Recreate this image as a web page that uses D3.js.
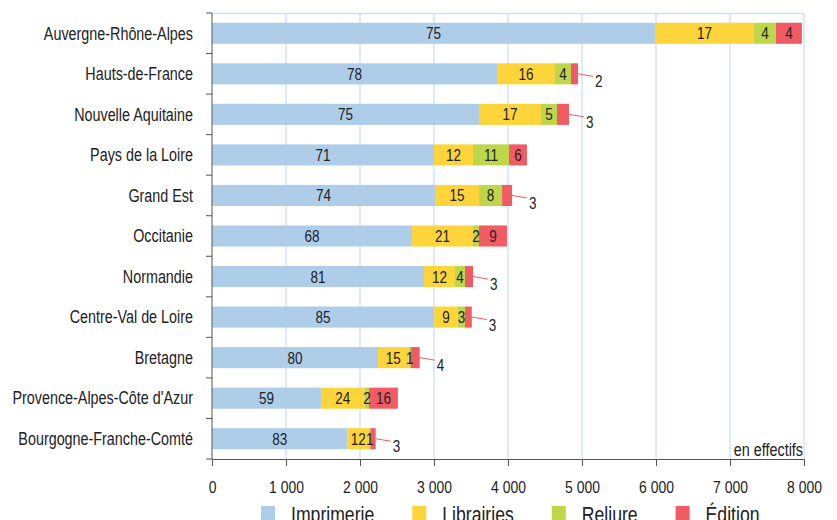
<!DOCTYPE html>
<html><head><meta charset="utf-8">
<script src="https://cdn.jsdelivr.net/npm/d3@7"></script>
<style>
body{margin:0;background:#fff;}
svg{display:block;font-family:"Liberation Sans",Arial,Helvetica,sans-serif;}
</style></head>
<body><svg id="c" width="837" height="520"></svg>
<script>
const regions = ["Auvergne-Rhône-Alpes","Hauts-de-France","Nouvelle Aquitaine","Pays de la Loire","Grand Est","Occitanie","Normandie","Centre-Val de Loire","Bretagne","Provence-Alpes-Côte d'Azur","Bourgogne-Franche-Comté"];
const seriesNames = ["Imprimerie","Librairies","Reliure","Édition"];
// effectifs (counts)
const imprimerie = [5986,3851,3608,3000,3014,2703,2865,3003,2243,1472,1832];
const librairies = [1338,784,838,527,595,824,419,319,416,592,290];
const reliure    = [297,216,216,486,311,81,135,97,28,59,20];
const edition    = [351,95,162,243,135,378,108,92,120,389,70];
// percentage labels (en %)
const pctImprimerie = [75,78,75,71,74,68,81,85,80,59,83];
const pctLibrairies = [17,16,17,12,15,21,12,9,15,24,12];
const pctReliure    = [4,4,5,11,8,2,4,3,1,2,1];
const pctEdition    = [4,2,3,6,3,9,3,3,4,16,3];
const xTicks = [0,1000,2000,3000,4000,5000,6000,7000,8000];
const colors = ["#aecde9","#fed43b","#bed74a","#f15b63"];

const values = [imprimerie, librairies, reliure, edition];
const pcts = [pctImprimerie, pctLibrairies, pctReliure, pctEdition];
const rows = regions.map((r,i)=>{const o={region:r}; seriesNames.forEach((s,k)=>o[s]=values[k][i]); return o;});
const stack = d3.stack().keys(seriesNames)(rows);

const svg = d3.select("#c");
const x = d3.scaleLinear().domain([0,8000]).range([212,804]);
const y = d3.scaleBand().domain(regions).range([13,459]).paddingInner(0.48).paddingOuter(0.24);
const fmt = v => d3.format(",")(v).replace(/,/g," ");
const SX = 0.82; // condensed look
function txt(parent, px, py, s, size, anchor){
  return parent.append("text")
    .attr("transform",`translate(${px},${py}) scale(${SX},1)`)
    .attr("text-anchor",anchor||"start").attr("font-size",size).attr("fill","#222").text(s);
}

// grid
svg.append("g").selectAll("line").data(xTicks.slice(1)).join("line")
  .attr("x1",d=>x(d)).attr("x2",d=>x(d)).attr("y1",13).attr("y2",459)
  .attr("stroke","#c9e1f3").attr("stroke-width",1.3);
svg.append("line").attr("x1",x(0)).attr("x2",x(8000)).attr("y1",13.5).attr("y2",13.5)
  .attr("stroke","#c9e1f3").attr("stroke-width",1.3);

// bars
const g = svg.append("g");
stack.forEach((layer,k)=>{
  g.append("g").selectAll("rect").data(layer).join("rect")
    .attr("x",d=>x(d[0])).attr("width",d=>x(d[1])-x(d[0]))
    .attr("y",d=>y(d.data.region)).attr("height",y.bandwidth())
    .attr("fill",colors[k]);
});

// labels
const lg = svg.append("g");
stack.forEach((layer,k)=>{
  layer.forEach((d,i)=>{
    const x0=x(d[0]), x1=x(d[1]), cy=y(d.data.region)+y.bandwidth()/2;
    const w=x1-x0, lab=pcts[k][i];
    if(k===3 && w<15){
      lg.append("line").attr("x1",x1).attr("y1",cy).attr("x2",x1+15).attr("y2",cy+2.5)
        .attr("stroke","#f15b63").attr("stroke-width",1);
      txt(lg, x1+17, cy+13.5, lab, 16.5, "start");
    } else {
      txt(lg, (x0+x1)/2, cy+6, lab, 16.5, "middle");
    }
  });
});

// y axis
const yAxis = svg.append("g").attr("transform","translate(212,0)");
yAxis.append("line").attr("x1",0).attr("x2",0).attr("y1",13).attr("y2",459).attr("stroke","#555");
const bounds = d3.range(regions.length+1).map(i=>13+i*(446/regions.length));
yAxis.selectAll("line.t").data(bounds).join("line").attr("class","t")
  .attr("x1",-6).attr("x2",0).attr("y1",d=>d).attr("y2",d=>d).attr("stroke","#555");
regions.forEach(r=>txt(yAxis, -19, y(r)+y.bandwidth()/2+6.3, r, 17.5, "end"));

// x axis
const xAxis = svg.append("g").attr("transform","translate(0,459)")
  .call(d3.axisBottom(x).tickValues(xTicks).tickFormat(fmt).tickSize(7).tickSizeOuter(0));
xAxis.select(".domain").attr("stroke","#555");
xAxis.selectAll(".tick line").attr("stroke","#555");
xAxis.selectAll(".tick text").attr("font-size",17).attr("fill","#222").attr("dy",0).attr("y",0)
  .attr("transform",`translate(0,34) scale(${SX},1)`);

txt(svg, 803, 456, "en effectifs", 17.5, "end");

// legend
const leg = svg.append("g");
let lx = 261;
seriesNames.forEach((s,k)=>{
  leg.append("rect").attr("x",lx).attr("y",506).attr("width",14).attr("height",14).attr("fill",colors[k]);
  const t = txt(leg, lx+30, 522, s, 21.5, "start");
  lx += 30 + t.node().getComputedTextLength()*SX + 38;
});
</script></body></html>
